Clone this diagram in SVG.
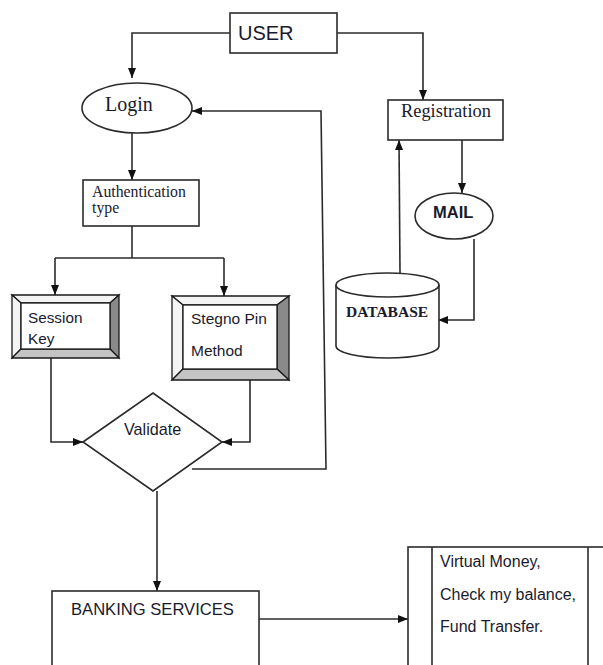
<svg xmlns="http://www.w3.org/2000/svg" width="603" height="665" viewBox="0 0 603 665">
<style>
.ln{fill:none;stroke:#2b2b2b;stroke-width:1.6}
.bx{fill:#fff;stroke:#2b2b2b;stroke-width:1.6}
.sans{font-family:"Liberation Sans",Arial,sans-serif;fill:#1a1a2e}
.serif{font-family:"Liberation Serif","Times New Roman",serif;fill:#1a1a2e}
.bev{stroke:#1a1a1a;stroke-width:1.3}
</style>
<defs>
<marker id="ah" markerUnits="userSpaceOnUse" markerWidth="10" markerHeight="10" viewBox="0 0 10 10" refX="10" refY="5" orient="auto">
<path d="M0,1 L10,5 L0,9 Z" fill="#111"/>
</marker>
</defs>
<rect width="603" height="665" fill="#fff"/>

<g id="connectors">
<path class="ln" d="M230,33 H132 V78" marker-end="url(#ah)"/>
<path class="ln" d="M337,33 H423 V100" marker-end="url(#ah)"/>
<path class="ln" d="M132,133 V180" marker-end="url(#ah)"/>
<path class="ln" d="M132,226 V258"/>
<path class="ln" d="M55,258 H224"/>
<path class="ln" d="M55,258 V295" marker-end="url(#ah)"/>
<path class="ln" d="M224,258 V296" marker-end="url(#ah)"/>
<path class="ln" d="M51,358 V442 H83" marker-end="url(#ah)"/>
<path class="ln" d="M250,380 V442 H222" marker-end="url(#ah)"/>
<path class="ln" d="M192,469 H326 L321,111 H192" marker-end="url(#ah)"/>
<path class="ln" d="M157,491 V591" marker-end="url(#ah)"/>
<path class="ln" d="M259,619 H408" marker-end="url(#ah)"/>
<path class="ln" d="M462,140 V193" marker-end="url(#ah)"/>
<path class="ln" d="M474,239 V320 H438" marker-end="url(#ah)"/>
<path class="ln" d="M400,273 L399,140" marker-end="url(#ah)"/>
</g>

<g id="user">
<rect class="bx" x="230" y="13" width="107" height="40"/>
<text class="sans" x="238" y="40" font-size="20">USER</text>
</g>

<g id="login">
<ellipse class="bx" cx="137" cy="108" rx="55" ry="25"/>
<text class="serif" x="105" y="111" font-size="20">Login</text>
</g>

<g id="auth">
<rect class="bx" x="83" y="180" width="116" height="46"/>
<text class="serif" x="92" y="197" font-size="15.8">Authentication</text>
<text class="serif" x="92" y="213" font-size="15.8">type</text>
</g>

<g id="session">
<polygon class="bev" fill="#f4f4f4" points="12,295 119,295 110,303 21,303"/>
<polygon class="bev" fill="#f4f4f4" points="12,295 21,303 21,349 12,358"/>
<polygon class="bev" fill="#8a8a8a" points="119,295 119,358 110,349 110,303"/>
<polygon class="bev" fill="#c4c4c4" points="12,358 119,358 110,349 21,349"/>
<rect class="bev" fill="#fff" x="21" y="303" width="89" height="46"/>
<text class="sans" x="28" y="323" font-size="15.3">Session</text>
<text class="sans" x="28" y="344" font-size="15.3">Key</text>
</g>

<g id="stegno">
<polygon class="bev" fill="#f4f4f4" points="172,296 289,296 277,305 183,305"/>
<polygon class="bev" fill="#f4f4f4" points="172,296 183,305 183,369 172,380"/>
<polygon class="bev" fill="#8a8a8a" points="289,296 289,380 277,369 277,305"/>
<polygon class="bev" fill="#c4c4c4" points="172,380 289,380 277,369 183,369"/>
<rect class="bev" fill="#fff" x="183" y="305" width="94" height="64"/>
<text class="sans" x="191" y="324" font-size="15.5">Stegno Pin</text>
<text class="sans" x="191" y="356" font-size="15.5">Method</text>
</g>

<g id="validate">
<polygon class="bx" stroke-width="1.3" points="83,442 153,393 222,442 153,491"/>
<text class="sans" x="124" y="435" font-size="16.2">Validate</text>
</g>

<g id="banking">
<rect class="bx" x="52" y="591" width="207" height="100"/>
<text class="sans" x="71" y="615" font-size="16.6">BANKING SERVICES</text>
</g>

<g id="services">
<rect class="bx" x="408" y="547" width="230" height="140"/>
<line class="ln" x1="432" y1="547" x2="432" y2="665"/>
<line class="ln" x1="588" y1="547" x2="588" y2="665"/>
<text class="sans" x="440" y="567" font-size="16">Virtual Money,</text>
<text class="sans" x="440" y="600" font-size="16">Check my balance,</text>
<text class="sans" x="440" y="632" font-size="16">Fund Transfer.</text>
</g>

<g id="registration">
<rect class="bx" x="388" y="100" width="115" height="40"/>
<text class="serif" x="401" y="117" font-size="18.4">Registration</text>
</g>

<g id="mail">
<ellipse class="bx" cx="454" cy="216" rx="39" ry="23"/>
<text class="sans" x="433" y="218" font-size="16.5" font-weight="bold">MAIL</text>
</g>

<g id="database">
<path class="bx" d="M336,285 V346 A51.5,12 0 0 0 439,346 V285"/>
<ellipse class="bx" cx="387.5" cy="285" rx="51.5" ry="12"/>
<text class="serif" x="346" y="317" font-size="15.5" font-weight="bold">DATABASE</text>
</g>
</svg>
